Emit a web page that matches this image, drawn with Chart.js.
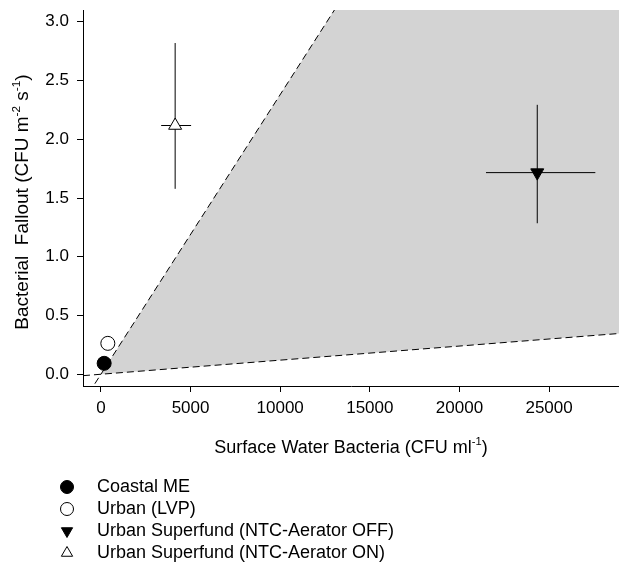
<!DOCTYPE html>
<html>
<head>
<meta charset="utf-8">
<script src="https://cdn.jsdelivr.net/npm/chart.js@4.4.1/dist/chart.umd.min.js"></script>
<style>
  html, body { margin: 0; padding: 0; background: #fff; }
  #wrap { width: 619px; height: 562px; position: relative; }
</style>
</head>
<body>
<div id="wrap"><canvas id="chart"></canvas></div>
<script>
// sites and their values
const groups = ['Coastal ME', 'Urban (LVP)', 'Urban Superfund (NTC-Aerator OFF)', 'Urban Superfund (NTC-Aerator ON)'];
const waterBacteria = [180, 385, 24340, 4140];        // CFU ml-1
const fallout = [0.093, 0.263, 1.716, 2.117];          // CFU m-2 s-1
const waterLow = [null, null, 21480, 3360];
const waterHigh = [null, null, 27580, 5030];
const falloutLow = [null, null, 1.285, 1.578];
const falloutHigh = [null, null, 2.293, 2.819];

const markerStyle = ['circle', 'circle', 'triangle', 'triangle'];
const markerFill = ['#000', '#fff', '#000', '#fff'];
const markerRotation = [0, 0, 180, 0];

const xTicks = [0, 5000, 10000, 15000, 20000, 25000];
const yTicks = [0, 0.5, 1.0, 1.5, 2.0, 2.5, 3.0];

// dashed boundary lines through the origin (slopes)
const upperSlope = 2.38e-4;
const lowerSlope = 1.2e-5;
const lineX = [-1000, 29000];

const FONT = 'Liberation Sans, Arial, Helvetica, sans-serif';

const datasets = [];

// grey wedge between the two lines
datasets.push({
    type: 'line',
    data: [
        { x: 0, y: 0 },
        { x: lineX[1], y: upperSlope * lineX[1] },
        { x: lineX[1], y: lowerSlope * lineX[1] }
    ],
    showLine: true,
    fill: 'shape',
    backgroundColor: '#d3d3d3',
    borderWidth: 0,
    borderColor: 'rgba(0,0,0,0)',
    pointRadius: 0,
    order: 10
});

[upperSlope, lowerSlope].forEach(s => {
    datasets.push({
        type: 'line',
        data: lineX.map(x => ({ x: x, y: s * x })),
        showLine: true,
        fill: false,
        borderColor: '#000',
        borderWidth: 1,
        borderDash: [7, 4],
        pointRadius: 0,
        order: 9
    });
});

// error bars
groups.forEach((g, i) => {
    if (waterLow[i] !== null) {
        datasets.push({
            type: 'line',
            data: [{ x: waterLow[i], y: fallout[i] }, { x: waterHigh[i], y: fallout[i] }],
            showLine: true, fill: false, borderColor: '#000', borderWidth: 1, pointRadius: 0, order: 5
        });
    }
    if (falloutLow[i] !== null) {
        datasets.push({
            type: 'line',
            data: [{ x: waterBacteria[i], y: falloutLow[i] }, { x: waterBacteria[i], y: falloutHigh[i] }],
            showLine: true, fill: false, borderColor: '#000', borderWidth: 1, pointRadius: 0, order: 5
        });
    }
});

// markers
groups.forEach((g, i) => {
    datasets.push({
        type: 'scatter',
        label: g,
        data: [{ x: waterBacteria[i], y: fallout[i] }],
        pointStyle: markerStyle[i],
        rotation: markerRotation[i],
        pointRadius: markerStyle[i] === 'circle' ? 7 : 7.5,
        backgroundColor: markerFill[i],
        borderColor: '#000',
        borderWidth: 1,
        order: 1
    });
});

function drawRich(ctx, parts, x, y, size) {
    // parts: [text, isSuperscript]
    let total = 0;
    parts.forEach(p => {
        ctx.font = (p[1] ? size * 0.62 : size) + 'px ' + FONT;
        total += ctx.measureText(p[0]).width;
    });
    let cx = x - total / 2;
    parts.forEach(p => {
        ctx.font = (p[1] ? size * 0.62 : size) + 'px ' + FONT;
        ctx.fillText(p[0], cx, p[1] ? y - size * 0.42 : y);
        cx += ctx.measureText(p[0]).width;
    });
}

const extras = {
    id: 'extras',
    afterDraw(chart) {
        const ctx = chart.ctx;
        const area = chart.chartArea;
        ctx.save();
        ctx.fillStyle = '#000';
        ctx.textAlign = 'left';
        ctx.textBaseline = 'alphabetic';

        // x title
        drawRich(ctx, [['Surface Water Bacteria (CFU ml', false], ['-1', true], [')', false]],
            (area.left + area.right) / 2, area.bottom + 67, 18);

        // y title
        ctx.save();
        ctx.translate(28, (area.top + area.bottom) / 2 + 4);
        ctx.rotate(-Math.PI / 2);
        drawRich(ctx, [['Bacterial  Fallout (CFU m', false], ['-2', true], [' s', false], ['-1', true], [')', false]],
            0, 0, 19);
        ctx.restore();

        // legend
        const lx = 67, tx = 97;
        let ly = area.bottom + 101;
        chart.data.datasets.filter(d => d.label).forEach(d => {
            ctx.fillStyle = d.backgroundColor;
            ctx.strokeStyle = '#000';
            ctx.lineWidth = 1;
            Chart.helpers.drawPoint(ctx, {
                pointStyle: d.pointStyle,
                rotation: d.rotation,
                radius: 6.5,
                borderWidth: 1
            }, lx, ly);
            ctx.fillStyle = '#000';
            ctx.font = '18px ' + FONT;
            ctx.textBaseline = 'middle';
            ctx.fillText(d.label, tx, ly);
            ly += 22;
        });
        ctx.restore();
    }
};

new Chart(document.getElementById('chart'), {
    type: 'scatter',
    data: { datasets: datasets },
    plugins: [extras],
    options: {
        responsive: true,
        maintainAspectRatio: false,
        animation: false,
        layout: { autoPadding: false, padding: { top: 10, right: 0, bottom: 0, left: 0 } },
        plugins: {
            legend: { display: false },
            tooltip: { enabled: false }
        },
        scales: {
            x: {
                type: 'linear',
                min: -1000,
                max: 28900,
                afterBuildTicks: s => { s.ticks = xTicks.map(v => ({ value: v })); },
                afterFit: s => { s.height = 176; s.paddingLeft = 0; s.paddingRight = 0; },
                ticks: {
                    font: { family: FONT, size: 17 },
                    color: '#000',
                    padding: 6,
                    maxRotation: 0,
                    autoSkip: false,
                    callback: v => String(v)
                },
                grid: { drawOnChartArea: false, drawTicks: true, tickLength: 6, color: '#000' },
                border: { display: true, color: '#000', width: 1 }
            },
            y: {
                type: 'linear',
                min: -0.1,
                max: 3.1,
                afterBuildTicks: s => { s.ticks = yTicks.map(v => ({ value: v })); },
                afterFit: s => { s.width = 83; s.paddingTop = 0; s.paddingBottom = 0; },
                ticks: {
                    font: { family: FONT, size: 17 },
                    color: '#000',
                    padding: 8,
                    autoSkip: false,
                    callback: v => v.toFixed(1)
                },
                grid: { drawOnChartArea: false, drawTicks: true, tickLength: 6, color: '#000' },
                border: { display: true, color: '#000', width: 1 }
            }
        }
    }
});
</script>
</body>
</html>
